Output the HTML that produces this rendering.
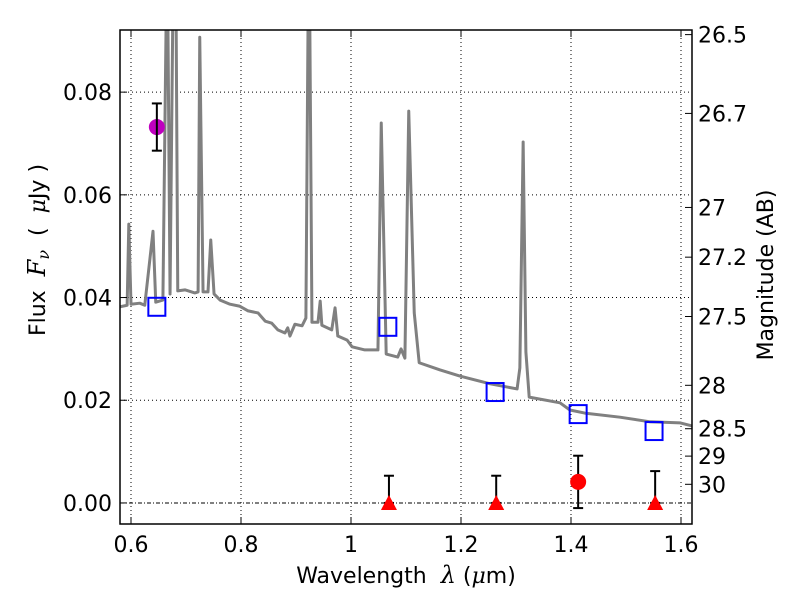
<!DOCTYPE html>
<html><head><meta charset="utf-8"><style>
body{margin:0;background:#fff}
svg{font-family:"DejaVu Sans","Liberation Sans",sans-serif}
</style></head><body>
<svg id="c" width="800" height="600"></svg>
<script>
const specWave=[0.580,0.593,0.596,0.600,0.616,0.625,0.640,0.645,0.658,0.664,0.667,0.671,0.676,0.682,0.685,0.698,0.716,0.722,0.725,0.731,0.740,0.745,0.751,0.762,0.780,0.798,0.813,0.831,0.844,0.856,0.867,0.880,0.885,0.889,0.898,0.911,0.918,0.922,0.925,0.929,0.940,0.944,0.947,0.965,0.971,0.976,0.993,1.002,1.025,1.049,1.055,1.064,1.085,1.091,1.098,1.105,1.115,1.124,1.162,1.198,1.253,1.302,1.307,1.313,1.318,1.324,1.380,1.398,1.425,1.489,1.544,1.598,1.620];
const specFlux=[0.0382,0.0385,0.0543,0.0387,0.0389,0.0385,0.0529,0.0391,0.0395,0.095,0.095,0.0407,0.095,0.095,0.0413,0.0415,0.0409,0.0411,0.0907,0.0411,0.0411,0.0512,0.0407,0.0395,0.0387,0.0383,0.0374,0.0370,0.0354,0.0350,0.0337,0.0331,0.0341,0.0325,0.0348,0.0345,0.0360,0.095,0.095,0.0352,0.0352,0.0393,0.0346,0.0337,0.0380,0.0325,0.0317,0.0304,0.0298,0.0298,0.0740,0.0290,0.0284,0.0300,0.0282,0.0763,0.0370,0.0273,0.0259,0.0247,0.0232,0.0222,0.0263,0.0703,0.0294,0.0206,0.0195,0.0181,0.0175,0.0167,0.0158,0.0156,0.0150];
const modelWave=[0.647,1.067,1.262,1.413,1.551];
const modelFlux=[0.0382,0.0343,0.0216,0.0173,0.0140];
const detWave=[0.647];const detFlux=[0.0732];const detErr=[0.0046];
const det2Wave=[1.413];const det2Flux=[0.0041];const det2Err=[0.0051];
const ulWave=[1.069,1.264,1.553];const ulFlux=[0,0,0];const ulTop=[0.0053,0.0053,0.0062];
const xTicks=[0.6,0.8,1.0,1.2,1.4,1.6];const xTickLabels=["0.6","0.8","1","1.2","1.4","1.6"];
const yTicks=[0,0.02,0.04,0.06,0.08];const yTickLabels=["0.00","0.02","0.04","0.06","0.08"];
const magTicks=[26.5,26.7,27,27.2,27.5,28,28.5,29,30];const magTickLabels=["26.5","26.7","27","27.2","27.5","28","28.5","29","30"];

const L=120,R=692,T=30,B=524,x0=0.58,x1=1.62,y0=-0.0041,y1=0.0921;
const X=v=>L+(v-x0)/(x1-x0)*(R-L);
const Y=v=>B-(v-y0)/(y1-y0)*(B-T);
const M=m=>Y(Math.pow(10,(23.9-m)/2.5));
const svg=document.getElementById('c');const NS="http://www.w3.org/2000/svg";
function mk(t,a,p){const e=document.createElementNS(NS,t);for(const k in a)e.setAttribute(k,a[k]);(p||svg).appendChild(e);return e;}
const defs=mk('defs',{});const cp=mk('clipPath',{id:'clip'},defs);mk('rect',{x:L,y:T,width:R-L,height:B-T},cp);
const plot=mk('g',{'clip-path':'url(#clip)'});


xTicks.forEach((t,i)=>{
 const g=mk('line',{x1:X(t),x2:X(t),y1:T,y2:B,stroke:'#000','stroke-dasharray':'1,3','stroke-width':1},plot);
 
 
 mk('line',{x1:X(t),x2:X(t),y1:B,y2:B-7,stroke:'#000'});
 mk('line',{x1:X(t),x2:X(t),y1:T,y2:T+7,stroke:'#000'});
 const tx=mk('text',{x:X(t),y:B+28,'text-anchor':'middle','font-size':22});tx.textContent=xTickLabels[i];
 
 
});
yTicks.forEach((t,i)=>{
 if(t!==0){const g=mk('line',{x1:L,x2:R,y1:Y(t),y2:Y(t),stroke:'#000','stroke-dasharray':'1,3'},plot);
 
 }
 mk('line',{x1:L,x2:L+7,y1:Y(t),y2:Y(t),stroke:'#000'});
 const tx=mk('text',{x:L-8,y:Y(t)+8,'text-anchor':'end','font-size':22});tx.textContent=yTickLabels[i];
 
 
});
const zl=mk('line',{x1:L,x2:R,y1:Y(0),y2:Y(0),stroke:'#000','stroke-dasharray':'4,2,1,2','stroke-width':1},plot);


magTicks.forEach((m,i)=>{
 mk('line',{x1:R,x2:R-7,y1:M(m),y2:M(m),stroke:'#000'});
 const tx=mk('text',{x:R+6,y:M(m)+8,'font-size':22});tx.textContent=magTickLabels[i];
 
 
});
const sp=mk('polyline',{points:specWave.map((w,i)=>X(w)+','+Y(specFlux[i])).join(' '),fill:'none',stroke:'#808080','stroke-width':3,'stroke-linejoin':'round'},plot);


modelWave.forEach((w,i)=>{const r=mk('rect',{x:X(w)-8.5,y:Y(modelFlux[i])-9,width:17,height:18,fill:'none',stroke:'#0000ff','stroke-width':2},plot);
 
 });
function ebar(x,ya,yb){mk('line',{x1:x,x2:x,y1:ya,y2:yb,stroke:'#000','stroke-width':2},plot);
 mk('line',{x1:x-5,x2:x+5,y1:ya,y2:ya,stroke:'#000','stroke-width':2},plot);
 mk('line',{x1:x-5,x2:x+5,y1:yb,y2:yb,stroke:'#000','stroke-width':2},plot);}
detWave.forEach((w,i)=>{const c=mk('circle',{cx:X(w),cy:Y(detFlux[i]),r:8,fill:'#bf00bf'},plot);
 
 
 ebar(X(w),Y(detFlux[i]+detErr[i]),Y(detFlux[i]-detErr[i]));});
det2Wave.forEach((w,i)=>{ebar(X(w),Y(det2Flux[i]+det2Err[i]),Y(det2Flux[i]-det2Err[i]));
 const c=mk('circle',{cx:X(w),cy:Y(det2Flux[i]),r:8,fill:'#ff0000'},plot);
 
 });
ulWave.forEach((w,i)=>{const x=X(w),y=Y(ulFlux[i]);ebar(x,Y(ulTop[i]),y);
 const p=mk('polygon',{points:`${x-8},${y+7} ${x+8},${y+7} ${x},${y-8}`,fill:'#ff0000'},plot);
 
 });
const fr=mk('rect',{x:L,y:T,width:R-L,height:B-T,fill:'none',stroke:'#000','stroke-width':1.5});


</script>
<svg width="800" height="600" style="position:absolute;left:0;top:0">
<text x="406" y="583" text-anchor="middle" font-size="22" font-family="DejaVu Sans, sans-serif" xml:space="preserve">Wavelength  <tspan font-style="italic" font-family="DejaVu Serif, serif" font-size="24">λ</tspan> (<tspan font-style="italic" font-family="DejaVu Serif, serif">μ</tspan>m)</text>
<text transform="translate(45,250) rotate(-90)" text-anchor="middle" font-size="22" font-family="DejaVu Sans, sans-serif" xml:space="preserve">Flux  <tspan font-style="italic" font-family="DejaVu Serif, serif" font-size="24">F<tspan font-size="16" dy="4">ν</tspan></tspan><tspan dy="-4">  (  </tspan><tspan font-style="italic" font-family="DejaVu Serif, serif">μ</tspan>Jy )</text>
<text transform="translate(773,275) rotate(-90)" text-anchor="middle" font-size="22" font-family="DejaVu Sans, sans-serif">Magnitude (AB)</text>
</svg>
</body></html>
